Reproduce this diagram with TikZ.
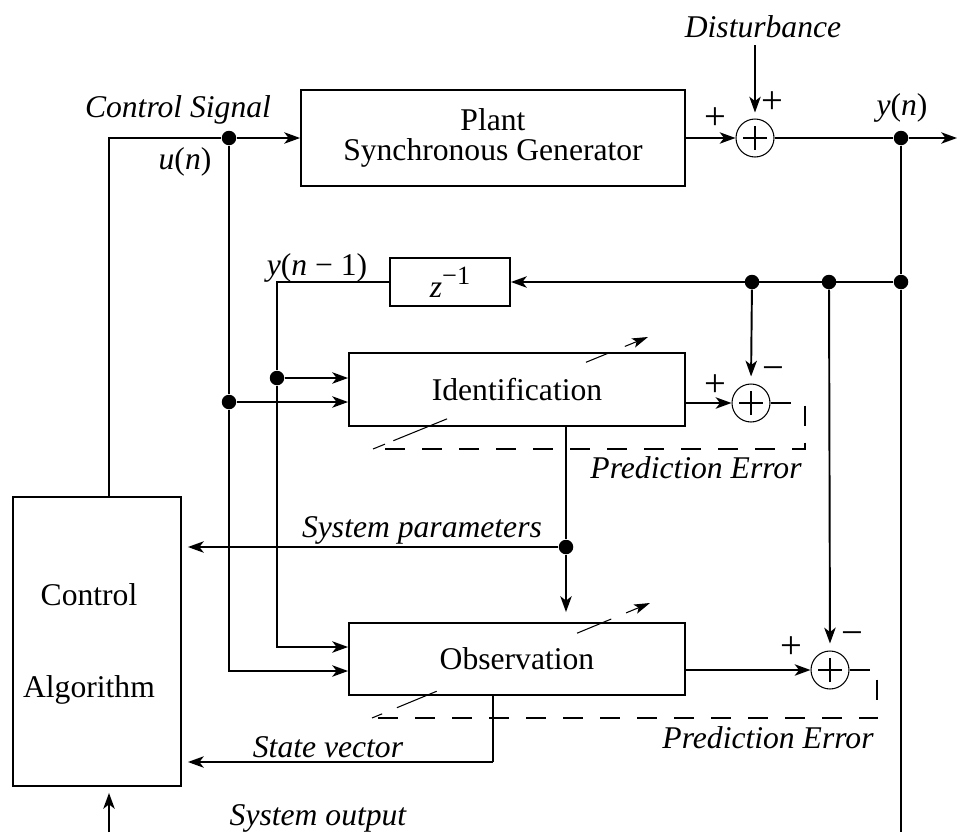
\documentclass[tikz,border=0pt]{standalone}
\usepackage{fontspec}
\setmainfont{Liberation Serif}
\usetikzlibrary{arrows.meta, positioning, calc, backgrounds}
\tikzstyle{wire} = [line width=1.1pt]
\tikzstyle{arrow} = [line width=1.1pt,-{Stealth[length=9pt,width=6.5pt,inset=2.5pt]}]
\tikzstyle{thinarrow} = [line width=0.6pt,-{Stealth[length=9pt,width=6.5pt,inset=2.5pt]}]
\tikzstyle{block} = [draw, line width=1.1pt, fill=white, inner sep=0pt, align=center]
\tikzstyle{dot} = [circle, fill, inner sep=0pt, minimum size=0.29cm]
\tikzstyle{sumnode} = [circle, draw, line width=0.6pt, fill=white, minimum size=0.76cm, inner sep=0pt,
  path picture={\draw[line width=0.6pt] (path picture bounding box.center) ++(-0.24cm,0) -- ++(0.48cm,0)
                 (path picture bounding box.center) ++(0,-0.24cm) -- ++(0,0.48cm);}]
\tikzstyle{lbl} = [font=\fontsize{18}{17}\selectfont\itshape]
\tikzstyle{sign} = [font=\fontsize{22}{22}\selectfont, inner sep=0pt]
\tikzstyle{err} = [line width=1.1pt, dash pattern=on 0.4cm off 0.34cm]
\tikzstyle{adapt} = [line width=0.6pt, -{Stealth[length=9pt,width=5.5pt,inset=2pt]}]

\begin{document}
\begin{tikzpicture}[x=0.02cm, y=-0.02cm, font=\fontsize{18}{17}\selectfont]
    \useasboundingbox (0,0) rectangle (957,832);

    % Blocks
    \node[block, minimum width=7.68cm, minimum height=1.92cm] (plant) at (493,138) {Plant\\Synchronous Generator};
    \node[block, minimum width=2.4cm, minimum height=0.96cm] (zinv) at (450,282) {\textit{z}\raisebox{0.9ex}{\fontsize{15}{15}\selectfont −1}};
    \node[block, minimum width=6.72cm, minimum height=1.46cm] (ident) at (517,389.5) {Identification};
    \node[block, minimum width=6.72cm, minimum height=1.44cm] (obs) at (517,659) {Observation};
    \node[block, minimum width=3.36cm, minimum height=5.78cm] (ctrl) at (97,641.5) {};
    \node[align=center] (ctrltxt) at (89,644) {Control\\[1.24cm]Algorithm};

    % Summing points
    \node[sumnode] (s1) at (755,138) {};
    \node[sumnode] (s2) at (751,403) {};
    \node[sumnode] (s3) at (830,670) {};

    % Branch points
    \node[dot] (d1) at (229,138) {};
    \node[dot] (d2) at (901,138) {};
    \node[dot] (d3) at (901,282) {};
    \node[dot] (d4) at (829,282) {};
    \node[dot] (d5) at (752,282) {};
    \node[dot] (d6) at (277,378) {};
    \node[dot] (d7) at (229,402) {};
    \node[dot] (d8) at (566,547) {};

    % Free ends
    \coordinate (cs) at (109,138);
    \coordinate (dist) at (755,45);
    \coordinate (yout) at (957,138);
    \coordinate (ybot) at (901,832);
    \coordinate (sysout) at (109,832);
    \coordinate (sv) at (493,762);
    \coordinate (c1) at (805,449);
    \coordinate (e1) at (373,449);
    \coordinate (a1) at (648,337);
    \coordinate (c2) at (877,718);
    \coordinate (e2) at (372,718);
    \coordinate (a2) at (650,603);

    % Control signal
    \draw[wire] (ctrl.north -| cs) -- (cs) -- (d1);
    \draw[arrow] (d1) -- (plant.west);
    \draw[wire] (d1) -- (d7);
    \draw[arrow] (d7) -- (d7 -| ident.west);
    \draw[arrow] (d7) |- ($(obs.west)+(0,12)$);

    % Plant output
    \draw[thinarrow] (plant.east) -- (s1.west);
    \draw[thinarrow, shorten >=0.12cm] (dist) -- (s1.north);
    \draw[wire] (s1.east) -- (d2);
    \draw[arrow] (d2) -- (yout);
    \draw[wire] (d2) -- (d3) -- (ybot);
    \draw[arrow] (d3) -- (zinv.east);

    % Delayed output
    \draw[wire] (zinv.west) -| (d6);
    \draw[arrow] (d6) -- (d6 -| ident.west);
    \draw[arrow] (d6) |- ($(obs.west)+(0,-12)$);

    % Identification error
    \draw[arrow] (ident.east |- s2) -- (s2.west);
    \draw[arrow, shorten >=0.14cm] (d5) -- (s2.north);
    \draw[err] (s2.east) -| (c1) -- (e1);

    % System parameters
    \draw[wire] (ident.south -| d8) -- (d8);
    \draw[arrow, shorten >=0.2cm] (d8) -- (d8 |- obs.north);
    \draw[arrow, shorten >=0.12cm] (d8) -- (d8 -| ctrl.east);

    % Observation error
    \draw[arrow] (obs.east |- s3) -- (s3.west);
    \draw[arrow, shorten >=0.14cm] (d4) -- (s3.north);
    \draw[err] (s3.east) -| (c2) -- (e2);

    % State vector and system output
    \draw[wire] (obs.south -| sv) -- (sv);
    \draw[arrow, shorten >=0.12cm] (sv) -- (sv -| ctrl.east);
    \draw[arrow, shorten >=0.12cm] (sysout) -- (ctrl.south -| sysout);

    % Adaptation arrows
    \draw[adapt, dash pattern=on 0.26cm off 0.18cm on 1.16cm off 3cm on 0.52cm off 0.32cm on 2cm] (e1) -- (a1);
    \draw[adapt, dash pattern=on 0.22cm off 0.32cm on 0.86cm off 3.04cm on 0.74cm off 0.32cm on 2cm] (e2) -- (a2);

    % Labels
    \node[lbl] (dlbl) at (763,27) {Disturbance};
    \node[lbl] (cslbl) at (178,110) {Control Signal};
    \node (ulbl) at (185,162) {\textit{u}(\textit{n})};
    \node (ylbl) at (902,108) {\textit{y}(\textit{n})};
    \node (y1lbl) at (317,268) {\textit{y}(\textit{n} − 1)};
    \node[lbl] (pe1) at (696,468) {Prediction Error};
    \node[lbl] (pe2) at (768,738) {Prediction Error};
    \node[lbl] (splbl) at (422,530) {System parameters};
    \node[lbl] (svlbl) at (328,747) {State vector};
    \node[lbl] (solbl) at (318,818) {System output};

    % Signs
    \node[sign] (p1) at (715,119) {+};
    \node[sign] (p2) at (772,103) {+};
    \node[sign] (p3) at (715,386) {+};
    \node[sign] (m1) at (773,374) {−};
    \node[sign] (p4) at (791,648) {+};
    \node[sign] (m2) at (852,639) {−};
\end{tikzpicture}
\end{document}
